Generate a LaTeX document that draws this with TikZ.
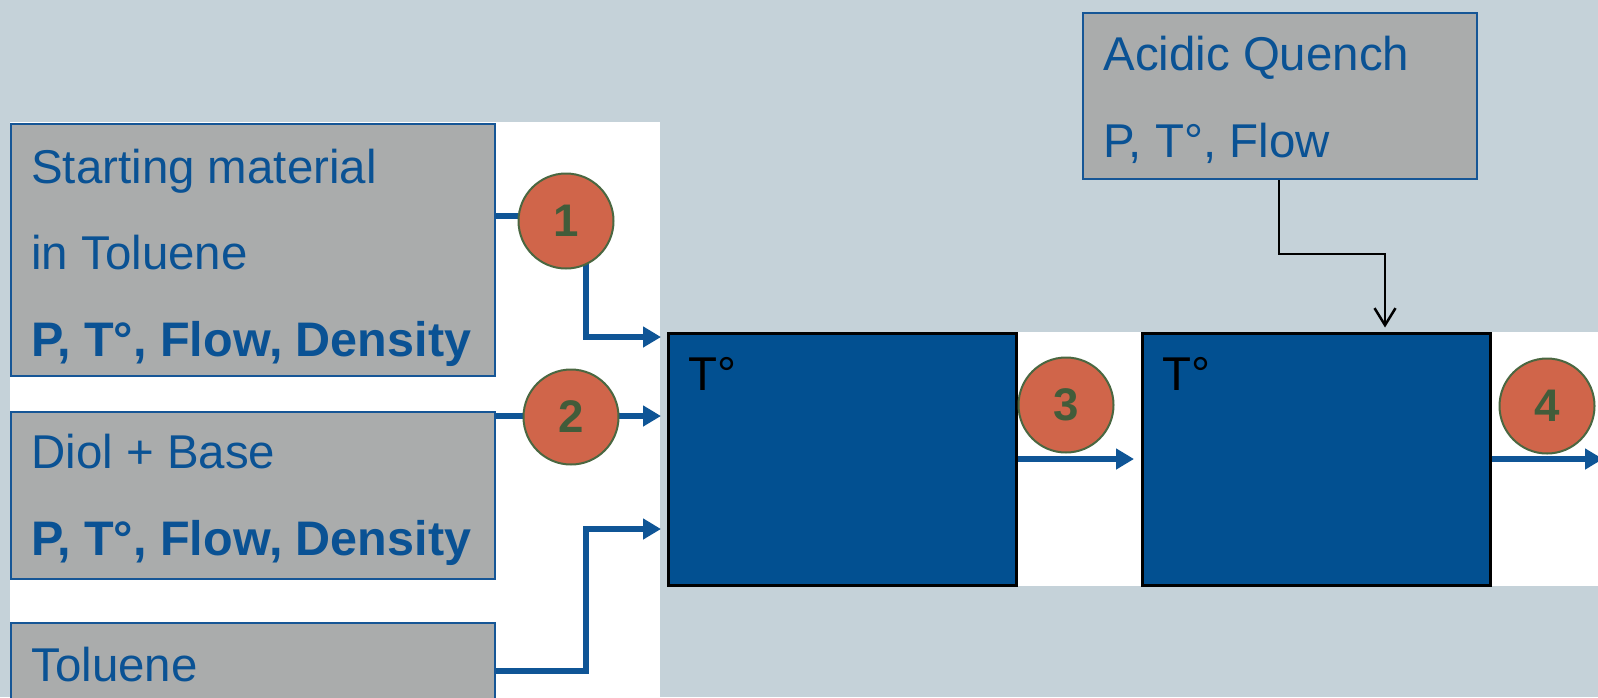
\documentclass[tikz,border=0pt]{standalone}
\usepackage{fontspec}
\setmainfont{Liberation Sans}
\usetikzlibrary{arrows.meta,calc}
\definecolor{bgc}{RGB}{197,210,217}
\definecolor{boxgray}{RGB}{170,172,172}
\definecolor{boxblue}{RGB}{22,86,150}
\definecolor{textblue}{RGB}{10,82,148}
\definecolor{reactorblue}{RGB}{2,80,145}
\definecolor{flowblue}{RGB}{15,85,150}
\definecolor{circf}{RGB}{208,101,74}
\definecolor{circb}{RGB}{74,103,65}
\definecolor{numg}{RGB}{66,92,58}
\begin{document}
\begin{tikzpicture}[x=0.02cm,y=-0.02cm,
  feedbox/.style={draw=boxblue,fill=boxgray,line width=0.04cm,anchor=north west,inner sep=0pt},
  reactor/.style={draw=black,fill=reactorblue,line width=0.05cm,anchor=north west,inner sep=0pt,minimum width=348*0.02cm,minimum height=252*0.02cm},
  lbl/.style={anchor=base west,inner sep=0pt,text=textblue,font=\fontsize{27}{32}\selectfont},
  blbl/.style={anchor=base west,inner sep=0pt,text=textblue,font=\fontsize{27.6}{32}\selectfont\bfseries},
  tlbl/.style={anchor=base west,inner sep=0pt,text=black,font=\fontsize{27}{32}\selectfont},
  num/.style={circle,draw=circb,fill=circf,line width=0.04cm,minimum size=95*0.02cm,inner sep=0pt,text=numg,font=\fontsize{26}{30}\selectfont\bfseries},
  flow/.style={draw=flowblue,line width=0.13cm,line join=miter,-{Triangle[length=0.36cm,width=0.4cm]}},
  qline/.style={draw=black,line width=0.05cm,-{Straight Barb[length=0.34cm,width=0.42cm]}},
]
\path[use as bounding box] (0,0) rectangle (1598,697);
\clip (0,0) rectangle (1598,697);
\fill[bgc] (0,0) rectangle (1598,697);
\fill[white] (10,122) rectangle (660,700);
\fill[white] (667,332) rectangle (1600,586);

% feed boxes
\node[feedbox,minimum width=484*0.02cm,minimum height=252*0.02cm] (box1) at (10,123) {};
\node[feedbox,minimum width=484*0.02cm,minimum height=167*0.02cm] (box2) at (10,411) {};
\node[feedbox,minimum width=484*0.02cm,minimum height=90*0.02cm] (box3) at (10,622) {};
\node[feedbox,minimum width=394*0.02cm,minimum height=166*0.02cm] (aq) at (1082,12) {};

% reactors
\node[reactor] (r1) at (667,332) {};
\node[reactor] (r2) at (1141,332) {};

% coordinates for connector bends
\coordinate (k1) at (586,216);
\coordinate (k1b) at (586,337);
\coordinate (k2) at (586,416);
\coordinate (k3) at (586,671);
\coordinate (k3b) at (586,529);
\coordinate (m) at (1000,459);
\coordinate (out) at (1603,459);
\coordinate (q1) at (1279,254);
\coordinate (q2) at (1385,254);

% connectors
\draw[flow,shorten >=0.12cm] (box1.east |- k1) -- (k1) -- (k1b) -- (r1.west |- k1b);
\draw[flow,shorten >=0.12cm] (box2.east |- k2) -- (r1.west |- k2);
\draw[flow,shorten >=0.12cm] (box3.east |- k3) -- (k3) -- (k3b) -- (r1.west |- k3b);
\draw[flow,shorten >=0.14cm] (r1.east |- m) -- (r2.west |- m);
\draw[flow] (r2.east |- m) -- (out);
\draw[qline,shorten >=0.09cm] (aq.south -| q1) -- (q1) -- (q2) -- (r2.north -| q2);

% circles
\node[num] (c1) at (566,221) {1};
\node[num] (c2) at (571,417) {2};
\node[num] (c3) at (1066,405) {3};
\node[num] (c4) at (1547,406) {4};

% texts
\node[lbl] (t1a) at (31,183) {Starting material};
\node[lbl] (t1b) at (31,269) {in Toluene};
\node[blbl] (t1c) at (31,356) {P, T°, Flow, Density};
\node[lbl] (t2a) at (31,468) {Diol + Base};
\node[blbl] (t2b) at (31,555) {P, T°, Flow, Density};
\node[lbl] (t3a) at (31,681) {Toluene};
\node[lbl] (taq1) at (1103,70) {Acidic Quench};
\node[lbl] (taq2) at (1103,157) {P, T°, Flow};
\node[tlbl] (tr1) at (688,390) {T°};
\node[tlbl] (tr2) at (1162,390) {T°};
\end{tikzpicture}
\end{document}
